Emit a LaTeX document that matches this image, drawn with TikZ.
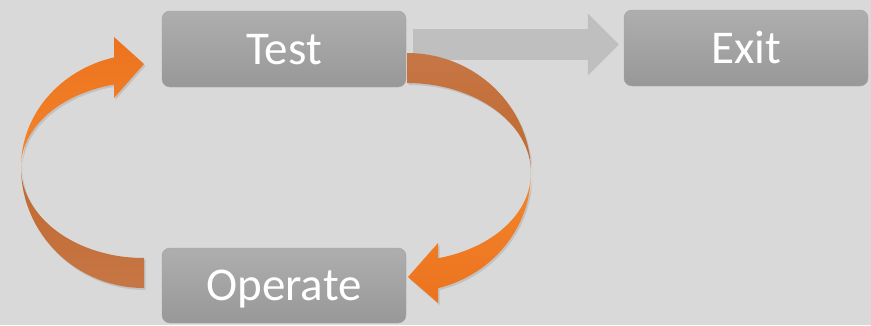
\documentclass[tikz,border=0pt]{standalone}
\usepackage{fontspec}
\setmainfont{Carlito}
\usetikzlibrary{arrows.meta,shadows}
\definecolor{bggray}{HTML}{D9D9D9}
\definecolor{boxtop}{HTML}{AEAEAE}
\definecolor{boxbot}{HTML}{989898}
\definecolor{boxline}{HTML}{A2A2A2}
\definecolor{flowgray}{HTML}{BFBFBF}
\definecolor{frontdark}{HTML}{EC731E}
\definecolor{frontlight}{HTML}{F3852B}
\definecolor{backdark}{HTML}{C1682F}
\definecolor{backlight}{HTML}{C67645}

\tikzset{
  stepbox/.style={draw=boxline, rounded corners=8pt, top color=boxtop, bottom color=boxbot,
    minimum width=244pt, minimum height=76pt, inner sep=0pt, text=white,
    font=\fontsize{47}{56}\selectfont, text height=30pt, text depth=0pt},
  loopshade/.style={drop shadow={opacity=0.25, shadow xshift=1.5pt, shadow yshift=-2pt}}
}

\begin{document}
\begin{tikzpicture}[x=1pt, y=1pt]
  % 背景
  \fill[bggray] (0,0) rectangle (871,325);
  \useasboundingbox (0,0) rectangle (871,325);

  % 三个方框
  \node[stepbox] (test) at (284,276) {Test};
  \node[stepbox] (exit) at (746,277) {Exit};
  \node[stepbox, minimum height=75pt] (operate) at (284,39.5) {Operate};

  % Test -> Exit 灰色箭头
  \draw[flowgray, line width=31pt, -{Triangle[length=31pt, width=62pt, line width=0pt]},
    shorten <=7pt, shorten >=5pt] ([yshift=4.5pt]test.east) -- ([yshift=3.5pt]exit.west);

  % 左侧回环: 下半段(背面)
  \path[loopshade, top color=backdark, bottom color=backlight]
    (144,37) arc[start angle=270, end angle=180, x radius=123, y radius=121]
    arc[start angle=180, end angle=270, x radius=123, y radius=91] -- cycle;
  % 左侧回环: 上半段(正面) 与箭头
  \path[loopshade, top color=frontdark, bottom color=frontlight]
    (21,158) arc[start angle=180, end angle=104, x radius=123, y radius=113]
    -- (114,288) -- (144,261) -- (114,227) -- (114.24,240.48)
    arc[start angle=104, end angle=180, x radius=123, y radius=85] -- cycle;

  % 右侧回环: 上半段(背面)
  \path[loopshade, top color=backlight, bottom color=backdark]
    (407,272) arc[start angle=90, end angle=0, x radius=124, y radius=120]
    arc[start angle=0, end angle=90, x radius=124, y radius=90] -- cycle;
  % 右侧回环: 下半段(正面) 与箭头
  \path[loopshade, top color=frontlight, bottom color=frontdark]
    (531,152) arc[start angle=0, end angle=-75.5, x radius=124, y radius=119]
    -- (438,22) -- (408,48) -- (438,82) -- (438.04,66.8)
    arc[start angle=-75.5, end angle=0, x radius=124, y radius=88] -- cycle;
\end{tikzpicture}
\end{document}
